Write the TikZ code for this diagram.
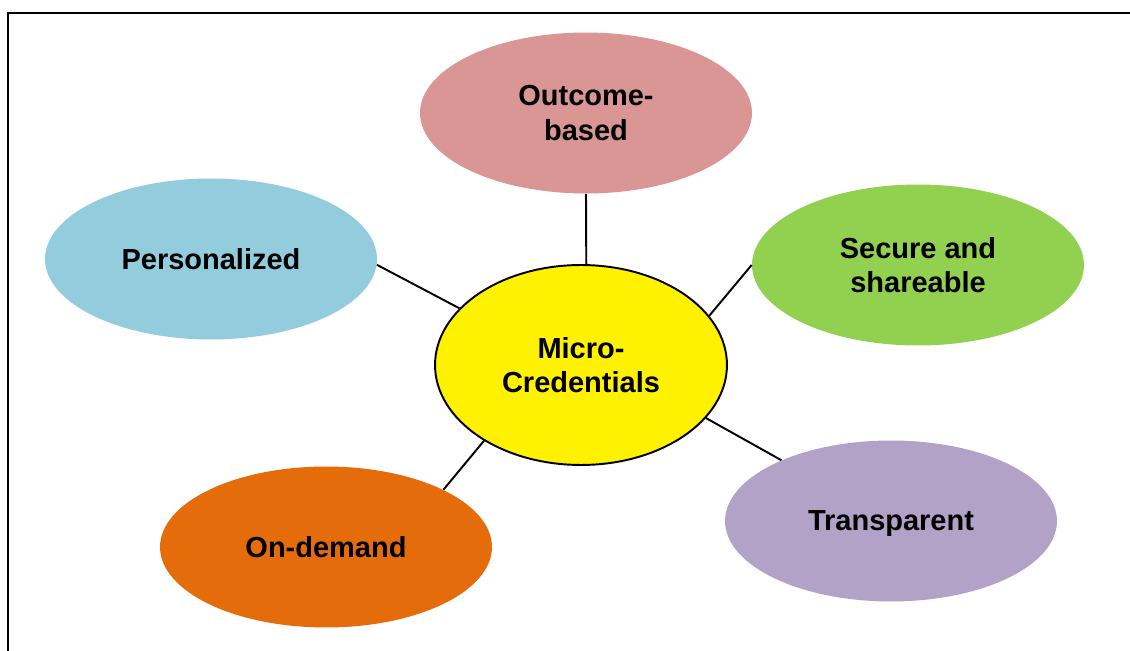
\documentclass[tikz,border=0pt]{standalone}
\usepackage{fontspec}
\setmainfont{Liberation Sans}
\usetikzlibrary{shapes.geometric}
\definecolor{outcomepink}{HTML}{D99694}
\definecolor{personalblue}{HTML}{93CDDD}
\definecolor{securegreen}{HTML}{92D050}
\definecolor{demandorange}{HTML}{E46C0A}
\definecolor{transpurple}{HTML}{B3A2C7}
\begin{document}
\begin{tikzpicture}[x=0.02cm,y=-0.02cm,
  bubble/.style={ellipse, inner sep=0pt, minimum width=6.64cm, minimum height=3.22cm,
    align=center, font=\fontsize{16.5}{19.5}\selectfont\bfseries},
  hub/.style={bubble, draw=black, line width=1.1pt, fill=yellow, minimum width=5.84cm, minimum height=4cm},
  spoke/.style={black, line width=1.1pt}]
\useasboundingbox (0,0) rectangle (1130,651);

% frame
\draw[black, line width=1.4pt] (8,651)--(8,13)--(1130,13);

% outer bubbles
\node[bubble, fill=outcomepink] (outcome) at (586,113) {Outcome-\\based};
\node[bubble, fill=personalblue] (personal) at (211,259) {Personalized};
\node[bubble, fill=securegreen] (secure) at (918,265) {Secure and\\shareable};
\node[bubble, fill=demandorange] (demand) at (326,547) {On-demand};
\node[bubble, fill=transpurple, text depth=0pt] (transp) at (891,521) {Transparent};

% centre
\node[hub] (micro) at (581,365) {Micro-\\Credentials};

% spokes
\draw[spoke] (outcome.south) -- (micro.87);
\draw[spoke] (personal.-2.4) -- (micro.155.5);
\draw[spoke] (secure.180) -- (micro.21);
\draw[spoke] (demand.26.6) -- (micro.218.4);
\draw[spoke] (transp.151.4) -- (micro.-23.9);
\end{tikzpicture}
\end{document}
